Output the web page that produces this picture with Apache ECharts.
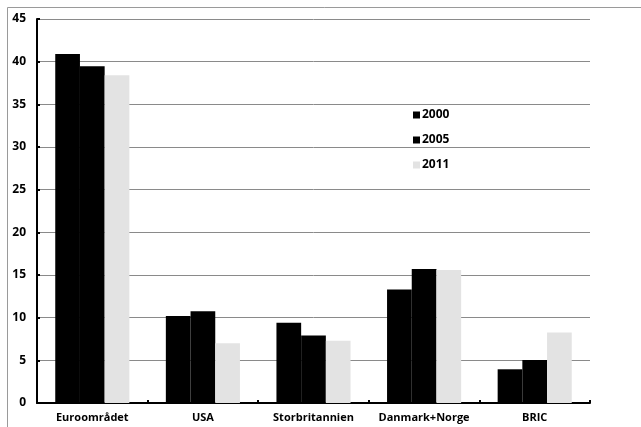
<!DOCTYPE html>
<html>
<head>
<meta charset="utf-8">
<script src="https://cdn.jsdelivr.net/npm/echarts@6/dist/echarts.min.js"></script>
<style>
  html, body { margin: 0; padding: 0; background: #fff; }
  #chart { width: 641px; height: 427px; }
</style>
</head>
<body>
<div id="chart"></div>
<script>
// Regions on the category axis
const regions = ['Euroområdet', 'USA', 'Storbritannien', 'Danmark+Norge', 'BRIC'];
// Years shown as series
const years = ['2000', '2005', '2011'];
// Values per year, one entry per region
const values2000 = [40.9, 10.2, 9.4, 13.3, 3.95];
const values2005 = [39.45, 10.75, 7.9, 15.7, 5.05];
const values2011 = [38.4, 7.0, 7.3, 15.6, 8.25];
// Value axis ticks
const yTicks = [0, 5, 10, 15, 20, 25, 30, 35, 40, 45];

const seriesColors = ['#000000', '#000000', '#e3e3e3'];
const seriesValues = [values2000, values2005, values2011];

const fontFamily = '"Open Sans", "Noto Sans", sans-serif';

const chart = echarts.init(document.getElementById('chart'), null, { renderer: 'canvas' });

chart.setOption({
  animation: false,
  backgroundColor: '#ffffff',
  graphic: [{
    type: 'rect',
    shape: { x: 7.5, y: 7.5, width: 700, height: 500 },
    style: { fill: 'none', stroke: '#9a9a9a', lineWidth: 1 },
    silent: true,
    z: -1
  }],
  legend: {
    data: years,
    orient: 'vertical',
    left: 408,
    top: 104,
    itemWidth: 7,
    itemHeight: 7,
    itemGap: 13,
    icon: 'rect',
    textStyle: { fontFamily, fontWeight: 'bold', fontSize: 12, color: '#000', padding: [0, 0, 0, -3] }
  },
  grid: { left: 37, right: 51, top: 19, bottom: 24, containLabel: false },
  xAxis: {
    type: 'category',
    data: regions,
    axisLine: { lineStyle: { color: '#000', width: 2 } },
    axisTick: { show: true, inside: true, length: 3, lineStyle: { color: '#000', width: 2 } },
    axisLabel: { interval: 0, fontFamily, fontWeight: 'bold', fontSize: 11, color: '#000', margin: 9 },
    splitLine: { show: false }
  },
  yAxis: {
    type: 'value',
    min: yTicks[0],
    max: yTicks[yTicks.length - 1],
    interval: yTicks[1] - yTicks[0],
    axisLine: { show: true, lineStyle: { color: '#000', width: 2 } },
    axisTick: { show: true, inside: true, length: 3, lineStyle: { color: '#000', width: 2 } },
    axisLabel: { fontFamily, fontWeight: 'bold', fontSize: 12, color: '#000', margin: 11 },
    splitLine: { show: true, lineStyle: { color: '#8a8a8a', width: 1 } }
  },
  series: years.map((y, i) => ({
    name: y,
    type: 'bar',
    data: seriesValues[i],
    barGap: '0%',
    barCategoryGap: '33%',
    itemStyle: { color: seriesColors[i] }
  }))
});
</script>
</body>
</html>
